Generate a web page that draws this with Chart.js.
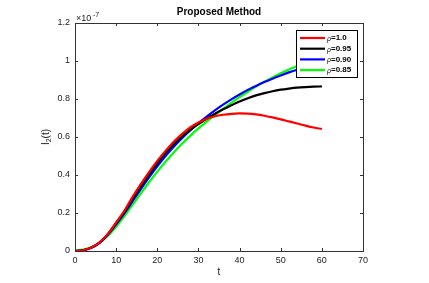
<!DOCTYPE html>
<html>
<head>
<meta charset="utf-8">
<script src="https://cdn.jsdelivr.net/npm/chart.js@4"></script>
<style>
  html, body { margin: 0; padding: 0; background: #fff; }
  #mychart { display: block; }
</style>
</head>
<body>
<canvas id="mychart" width="429" height="283"></canvas>
<script>
// time axis (t) and I_2(t) values, in units of 1e-7
const tValues = [0, 2, 4, 6, 8, 10, 12, 14, 16, 18, 20, 22, 24, 26, 28, 30, 32, 34, 36, 38, 40, 42, 44, 46, 48, 50, 52, 54, 56, 58, 60];
const rho100 = [0, 0.004, 0.018, 0.045, 0.09, 0.15, 0.212, 0.285, 0.352, 0.415, 0.474, 0.527, 0.575, 0.615, 0.65, 0.676, 0.696, 0.709, 0.717, 0.722, 0.724, 0.723, 0.719, 0.712, 0.703, 0.693, 0.682, 0.671, 0.66, 0.65, 0.642];
const rho095 = [0, 0.004, 0.018, 0.045, 0.09, 0.148, 0.207, 0.275, 0.34, 0.403, 0.462, 0.515, 0.562, 0.603, 0.638, 0.668, 0.696, 0.722, 0.746, 0.767, 0.787, 0.804, 0.819, 0.831, 0.841, 0.849, 0.855, 0.86, 0.863, 0.865, 0.866];
const rho090 = [0, 0.004, 0.017, 0.043, 0.085, 0.14, 0.198, 0.262, 0.326, 0.388, 0.446, 0.5, 0.549, 0.594, 0.635, 0.672, 0.707, 0.74, 0.77, 0.798, 0.824, 0.848, 0.869, 0.889, 0.907, 0.924, 0.94, 0.954, 0.967, 0.978, 0.988];
const rho085 = [0.002, 0.007, 0.02, 0.043, 0.08, 0.128, 0.183, 0.243, 0.303, 0.362, 0.418, 0.47, 0.519, 0.564, 0.606, 0.645, 0.681, 0.715, 0.748, 0.78, 0.81, 0.838, 0.865, 0.89, 0.913, 0.935, 0.955, 0.974, 0.991, 1.007, 1.02];
const legendLabels = ['=1.0', '=0.95', '=0.90', '=0.85'];
const xTicks = [0, 10, 20, 30, 40, 50, 60, 70];
const yTicks = [0, 0.2, 0.4, 0.6, 0.8, 1.0, 1.2];

const listColors = ['#ff0000', '#000000', '#0000ff', '#00ff00'];
const seriesList = [rho100, rho095, rho090, rho085];
const fontName = '"Liberation Sans", Arial, sans-serif';

const ctx = document.getElementById('mychart').getContext('2d');

// matlab style axes box, inside ticks, labels and the legend
const matlabFrame = {
    id: 'matlabFrame',
    afterDatasetsDraw(chart) {
        const c = chart.ctx;
        const a = chart.chartArea;
        const xs = chart.scales.x;
        const ys = chart.scales.y;
        c.save();
        c.strokeStyle = '#333';
        c.lineWidth = 1;
        c.strokeRect(Math.round(a.left) + 0.5, Math.round(a.top) + 0.5, Math.round(a.right - a.left), Math.round(a.bottom - a.top));
        c.beginPath();
        xTicks.forEach(v => {
            const px = Math.round(xs.getPixelForValue(v)) + 0.5;
            c.moveTo(px, a.bottom); c.lineTo(px, a.bottom - 3);
            c.moveTo(px, a.top); c.lineTo(px, a.top + 3);
        });
        yTicks.forEach(v => {
            const py = Math.round(ys.getPixelForValue(v)) + 0.5;
            c.moveTo(a.left, py); c.lineTo(a.left + 3, py);
            c.moveTo(a.right, py); c.lineTo(a.right - 3, py);
        });
        c.stroke();

        // legend
        const lx = 296, ly = 30, lw = 61, lh = 47;
        c.fillStyle = '#fff';
        c.fillRect(lx, ly, lw, lh);
        c.strokeStyle = '#000';
        c.strokeRect(lx + 0.5, ly + 0.5, lw, lh);
        chart.data.datasets.forEach((ds, i) => {
            const y = ly + 8 + i * 10.7;
            c.strokeStyle = ds.borderColor;
            c.lineWidth = 2.2;
            c.beginPath();
            c.moveTo(lx + 4, y); c.lineTo(lx + 29, y);
            c.stroke();
            c.fillStyle = '#000';
            c.textBaseline = 'middle';
            c.textAlign = 'left';
            c.font = 'italic 7px ' + fontName;
            c.fillText('\u03c1', lx + 31, y + 1);
            c.font = 'bold 8px ' + fontName;
            c.fillText(legendLabels[i], lx + 35, y);
        });
        c.restore();
    },
    afterDraw(chart) {
        const c = chart.ctx;
        const a = chart.chartArea;
        c.save();
        c.fillStyle = '#000';
        c.textAlign = 'center';
        c.textBaseline = 'middle';
        c.font = 'bold 10px ' + fontName;
        c.fillText('Proposed Method', (a.left + a.right) / 2, 12);
        c.font = '10px ' + fontName;
        c.fillStyle = '#222';
        c.fillText('t', (a.left + a.right) / 2, 272);

        // exponent above the y axis
        c.textAlign = 'left';
        c.font = '9px ' + fontName;
        c.fillText('\u00d710', a.left + 1, 19);
        c.font = '7px ' + fontName;
        c.fillText('-7', a.left + 18, 15);

        // y label I_2(t)
        c.translate(46, (a.top + a.bottom) / 2);
        c.rotate(-Math.PI / 2);
        c.textAlign = 'left';
        c.font = '10px ' + fontName;
        const w1 = c.measureText('I').width;
        c.font = '7px ' + fontName;
        const w2 = c.measureText('2').width;
        c.font = '10px ' + fontName;
        const w3 = c.measureText('(t)').width;
        let x0 = -(w1 + w2 + w3) / 2;
        c.fillText('I', x0, 0);
        c.font = '7px ' + fontName;
        c.fillText('2', x0 + w1, 3);
        c.font = '10px ' + fontName;
        c.fillText('(t)', x0 + w1 + w2, 0);
        c.restore();
    }
};

const chart = new Chart(ctx, {
    type: 'line',
    data: {
        labels: tValues,
        datasets: seriesList.map((vals, i) => ({
            label: 'rho' + legendLabels[i],
            data: vals.map((v, j) => ({ x: tValues[j], y: v })),
            borderColor: listColors[i],
            backgroundColor: listColors[i],
            borderWidth: 2.2,
            pointRadius: 0,
            cubicInterpolationMode: 'monotone',
            fill: false
        }))
    },
    options: {
        responsive: false,
        animation: false,
        layout: { padding: { top: 23, right: 66, left: 0, bottom: 0 } },
        plugins: {
            legend: { display: false },
            tooltip: { enabled: false },
            title: { display: false }
        },
        scales: {
            x: {
                type: 'linear',
                min: 0,
                max: 70,
                afterFit: s => { s.height = 32; },
                afterBuildTicks: s => { s.ticks = xTicks.map(v => ({ value: v })); },
                grid: { display: false, drawTicks: false },
                border: { display: false },
                ticks: { padding: 4, color: '#222', font: { family: fontName, size: 9 }, maxRotation: 0,
                         callback: v => String(v) }
            },
            y: {
                min: 0,
                max: 1.2,
                afterFit: s => { s.width = 75; },
                afterBuildTicks: s => { s.ticks = yTicks.map(v => ({ value: v })); },
                grid: { display: false, drawTicks: false },
                border: { display: false },
                ticks: { padding: 5, color: '#222', font: { family: fontName, size: 9 },
                         callback: v => String(+v.toFixed(1)) }
            }
        }
    },
    plugins: [matlabFrame]
});
</script>
</body>
</html>
